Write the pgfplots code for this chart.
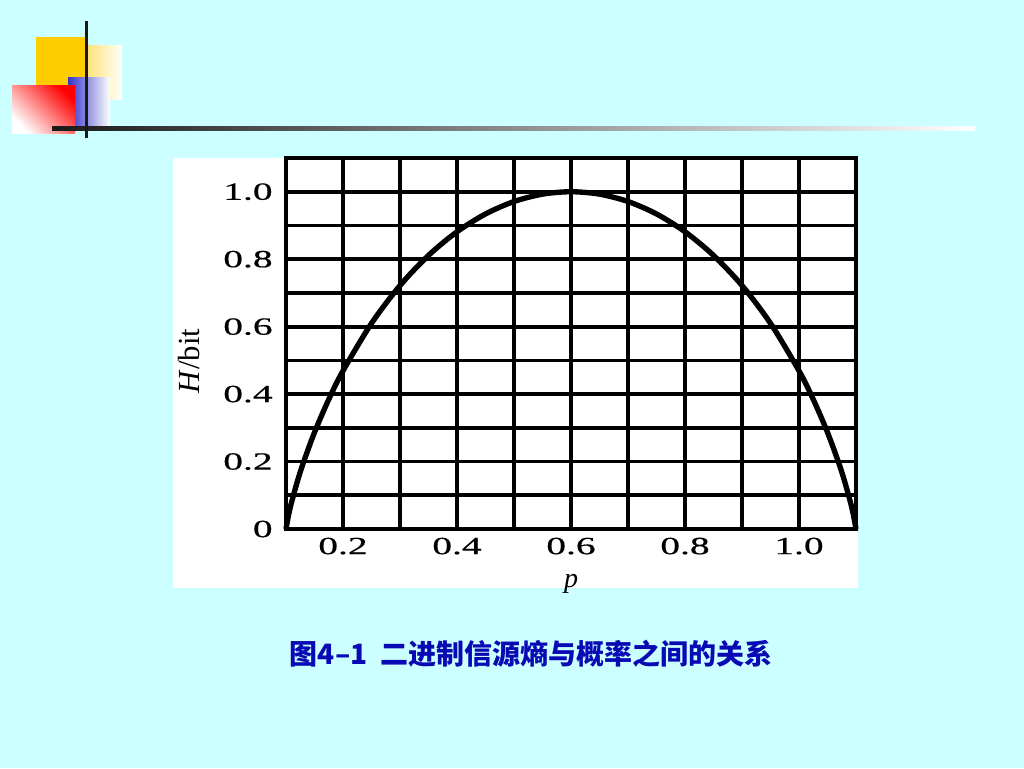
\documentclass[border=0pt]{standalone}
\usepackage{pgfplots}
\pgfplotsset{compat=1.18}
\usepackage{fontspec}
\setmainfont{Liberation Serif}
\newfontfamily\tickfont{Liberation Serif}[FakeStretch=1.6,FakeBold=0.6]
\newfontfamily\cjk{Noto Sans CJK SC}
\definecolor{bgcyan}{RGB}{204,255,255}
\definecolor{capblue}{RGB}{10,10,180}
\definecolor{yel}{RGB}{255,204,0}
\definecolor{blu}{RGB}{51,51,204}
\pgfplotstableread{
x y
0.100 0
0.105 0.0454
0.110 0.0808
0.120 0.1414
0.130 0.1944
0.150 0.2864
0.175 0.3843
0.200 0.4690
0.250 0.6098
0.300 0.7219
0.350 0.8113
0.400 0.8813
0.450 0.9341
0.500 0.9710
0.550 0.9928
0.600 1.0000
0.650 0.9928
0.700 0.9710
0.750 0.9341
0.800 0.8813
0.850 0.8113
0.900 0.7219
0.950 0.6098
1.000 0.4690
1.025 0.3843
1.050 0.2864
1.070 0.1944
1.080 0.1414
1.090 0.0808
1.095 0.0454
1.100 0
}\entropy
\begin{document}
\begin{tikzpicture}
\begin{scope}[x=0.75pt,y=-0.75pt]
\fill[bgcyan] (0,0) rectangle (1024,768);
% decorations
\fill[yel] (36,37) rectangle (86,86);
\shade[left color=yel!55, right color=white] (86,45) rectangle (122,99);
\shade[left color=blu, right color=white] (68,77) rectangle (110,128);
\end{scope}
\shade[top color=red, bottom color=white, shading angle=-45] (9pt,-63.75pt) rectangle (56.25pt,-99.75pt);
\begin{scope}[x=0.75pt,y=-0.75pt]
\shade[left color=black!90, right color=white] (52,126) rectangle (975,130);
\fill[black!90] (84.5,21) rectangle (87.5,138);
% white chart box
\fill[white] (173,158) rectangle (858,588);
% caption
\node[font=\cjk\bfseries\fontsize{21}{24}\selectfont, text=capblue] at (531,654) {图4–1\hspace{0.45em}二进制信源熵与概率之间的关系};
\end{scope}
\begin{axis}[
  at={(214.5pt,-396.75pt)}, anchor=south west,
  scale only axis, width=427.5pt, height=278.25pt,
  xmin=0.1, xmax=1.1, ymin=0, ymax=1.1,
  xtick={0.2,0.4,0.6,0.8,1.0},
  xticklabels={0.2,0.4,0.6,0.8,1.0},
  minor xtick={0.1,0.3,0.5,0.7,0.9,1.1},
  ytick={0,0.2,0.4,0.6,0.8,1.0},
  yticklabels={0,0.2,0.4,0.6,0.8,1.0},
  minor ytick={0.1,0.3,0.5,0.7,0.9},
  grid=both,
  major grid style={black, line width=2.8pt},
  minor grid style={black, line width=2.8pt},
  axis line style={black, line width=2.8pt},
  major tick length=0pt, minor tick length=0pt,
  tick style={draw=none},
  ticklabel style={font=\tickfont\fontsize{18.5}{20}\selectfont},
  xticklabel style={yshift=-3pt},
  yticklabel style={xshift=-6.5pt},
  xlabel={\textit{p}},
  ylabel={\textit{H}/bit},
  xlabel style={font=\fontsize{21}{22}\selectfont, yshift=-8pt},
  ylabel style={font=\fontsize{23}{24}\selectfont, yshift=11pt, xshift=-13pt},
  clip=false,
]
\addplot[black, line width=4pt, smooth, line join=round] table[x=x,y=y] {\entropy};
\end{axis}
\pgfresetboundingbox
\path (0,0) rectangle (768pt,-576pt);
\end{tikzpicture}
\end{document}
